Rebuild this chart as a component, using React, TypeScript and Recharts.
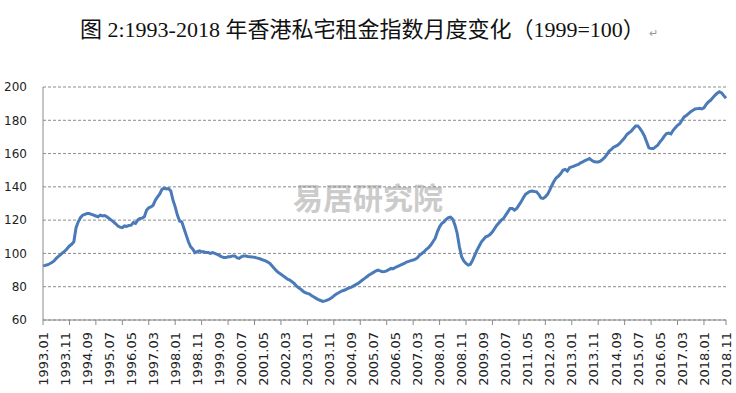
import React from 'react';
import { LineChart, Line, XAxis, YAxis, CartesianGrid } from 'recharts';

// Monthly private residential rent index (1999=100)
const y1993 = [92.5, 92.8, 93.2, 93.8, 94.5, 95.5, 97, 98.2, 99.3, 100.5, 101.5, 103];
const y1994 = [104.5, 105.5, 107, 115.5, 119, 121.5, 123, 123.5, 124, 124, 123.5, 123];
const y1995 = [122.5, 122, 123, 122.5, 122.8, 122, 121, 120, 119, 117.8, 116.5, 115.8];
const y1996 = [115.5, 116.5, 116.2, 116.8, 117, 118.5, 118, 120, 121, 121.2, 122, 126];
const y1997 = [127.5, 128, 129, 132, 134, 135.7, 138.5, 139.2, 138.8, 139, 137.5, 132];
const y1998 = [128, 123, 119.5, 119, 115, 111, 107, 104, 102.5, 100.5, 101, 101.5];
const y1999 = [101, 101, 100.5, 100.5, 100, 100.5, 100, 99.5, 98.8, 98, 97.5, 97.5];
const y2000 = [98, 98, 98.5, 98.5, 97.5, 97, 98, 98.5, 98.5, 98.2, 98, 97.8];
const y2001 = [97.7, 97.3, 97, 96.5, 96, 95.5, 94.8, 94, 92.5, 91, 89.5, 88.3];
const y2002 = [87.5, 86.5, 85.5, 84.5, 84, 83, 82, 80.5, 79.3, 78.5, 77.3, 76.5];
const y2003 = [76, 75.6, 74.5, 73.8, 73, 72.2, 71.7, 71.2, 71.5, 72, 72.5, 73.3];
const y2004 = [74.5, 75.5, 76.2, 77, 77.6, 78, 78.7, 79.3, 79.8, 80.5, 81.3, 82];
const y2005 = [83, 84, 85, 86, 87, 87.8, 88.6, 89.4, 90, 89.5, 89, 89.2];
const y2006 = [89.5, 90.3, 91, 90.8, 91.7, 92.2, 92.8, 93.5, 94, 94.8, 95.2, 95.7];
const y2007 = [96, 96.5, 97.5, 99, 100, 101, 102.5, 103.5, 105, 107, 109, 113];
const y2008 = [116, 118, 119, 120.5, 121.5, 121.8, 120.5, 117, 112, 104, 98, 95.5];
const y2009 = [94, 93, 93.5, 96, 99, 102, 104.5, 107, 108.5, 110, 110.5, 111.5];
const y2010 = [113, 115, 117, 118.5, 120, 121, 123, 125, 127, 127, 126, 127];
const y2011 = [129, 131, 133.5, 135.5, 136.5, 137.3, 137.5, 137.2, 137, 135.5, 133.3, 133];
const y2012 = [134, 135.5, 138, 141, 143.5, 145.5, 146.5, 148, 150, 150.5, 149.5, 151.5];
const y2013 = [152, 152.5, 153, 153.5, 154.5, 155, 155.8, 156.3, 157, 156, 155.2, 155];
const y2014 = [155, 155.5, 156.5, 157.8, 159.5, 161.5, 162.5, 163.8, 164.5, 165.2, 166.5, 168];
const y2015 = [169.5, 171.5, 172.5, 173.5, 175, 176.5, 176.5, 175, 173, 170.5, 167, 163.5];
const y2016 = [163, 163, 164, 165, 167, 168.5, 170.5, 172, 172.3, 171.8, 174, 175.5];
const y2017 = [177, 178, 180, 182, 182.8, 184, 185.2, 186, 186.8, 187, 187.2, 186.8];
const y2018 = [187.5, 189.5, 191, 192, 193.5, 195, 196.3, 197.2, 196.5, 194.8, 193.2];

const years = [
  y1993, y1994, y1995, y1996, y1997, y1998, y1999, y2000, y2001, y2002, y2003, y2004, y2005,
  y2006, y2007, y2008, y2009, y2010, y2011, y2012, y2013, y2014, y2015, y2016, y2017, y2018,
];
const firstYear = 1993;

const xLabels = [
  '1993.01', '1993.11', '1994.09', '1995.07', '1996.05', '1997.03', '1998.01', '1998.11',
  '1999.09', '2000.07', '2001.05', '2002.03', '2003.01', '2003.11', '2004.09', '2005.07',
  '2006.05', '2007.03', '2008.01', '2008.11', '2009.09', '2010.07', '2011.05', '2012.03',
  '2013.01', '2013.11', '2014.09', '2015.07', '2016.05', '2017.03', '2018.01', '2018.11',
];
const yTicks = [60, 80, 100, 120, 140, 160, 180, 200];

const title = '图 2:1993-2018 年香港私宅租金指数月度变化（1999=100）';
const watermark = '易居研究院';

const data: { month: string; value: number }[] = [];
years.forEach((arr, yi) => {
  arr.forEach((v, mi) => {
    const mm = String(mi + 1).padStart(2, '0');
    data.push({ month: `${firstYear + yi}.${mm}`, value: v });
  });
});

const markMonths = new Set<string>(
  data.filter((d) => d.month.endsWith('.01')).map((d) => d.month).concat([data[data.length - 1].month])
);
const labelSet = new Set<string>(xLabels);
const allTicks = data.map((d) => d.month).filter((m) => markMonths.has(m) || labelSet.has(m));

const XTick = (props: any) => {
  const { x, y, payload } = props;
  const v = payload.value as string;
  return (
    <g transform={`translate(${x},${y})`}>
      {markMonths.has(v) && <line x1={0} y1={0} x2={0} y2={5} stroke="#8a8a8a" strokeWidth={1} />}
      {labelSet.has(v) && (
        <text
          transform="rotate(-90)"
          x={-12}
          y={0}
          dy="0.36em"
          textAnchor="end"
          fontSize={13}
          fontFamily="'DejaVu Sans', sans-serif"
          fill="#222"
        >
          {v}
        </text>
      )}
    </g>
  );
};

export default function App() {
  return (
    <div style={{ position: 'absolute', left: 0, top: 0, width: 736, height: 393, background: '#fff' }}>
      <div
        style={{
          position: 'absolute',
          left: 80,
          top: 19,
          fontSize: 22,
          lineHeight: '22px',
          whiteSpace: 'nowrap',
          fontFamily: "'Liberation Serif', 'Noto Sans CJK SC', serif",
          color: '#111',
        }}
      >
        {title}
        <span style={{ fontSize: 11, color: '#999', marginLeft: 4 }}>↵</span>
      </div>
      <div
        style={{
          position: 'absolute',
          left: 293,
          top: 180,
          fontSize: 30,
          lineHeight: '32px',
          fontWeight: 700,
          whiteSpace: 'nowrap',
          fontFamily: "'Noto Sans CJK SC', serif",
          color: '#cbcbcb',
        }}
      >
        {watermark}
      </div>
      <div style={{ position: 'absolute', left: 0, top: 0 }}>
        <LineChart width={736} height={393} data={data} margin={{ top: 87, right: 10, bottom: 0, left: 0 }}>
          <CartesianGrid vertical={false} stroke="#8c8c8c" strokeDasharray="3 2" />
          <XAxis
            dataKey="month"
            height={73}
            ticks={allTicks}
            interval={0}
            tick={<XTick />}
            tickLine={false}
            tickSize={0}
            tickMargin={0}
            axisLine={{ stroke: '#8a8a8a', strokeWidth: 1 }}
          />
          <YAxis
            width={43}
            domain={[60, 200]}
            ticks={yTicks}
            interval={0}
            tickLine={false}
            tickSize={0}
            tickMargin={16}
            axisLine={{ stroke: '#8a8a8a', strokeWidth: 1 }}
            tick={{ fontSize: 12, fontFamily: "'DejaVu Sans', sans-serif", fill: '#222' }}
          />
          <Line
            type="linear"
            dataKey="value"
            stroke="#4a7ab8"
            strokeWidth={3}
            dot={false}
            isAnimationActive={false}
          />
        </LineChart>
      </div>
    </div>
  );
}
